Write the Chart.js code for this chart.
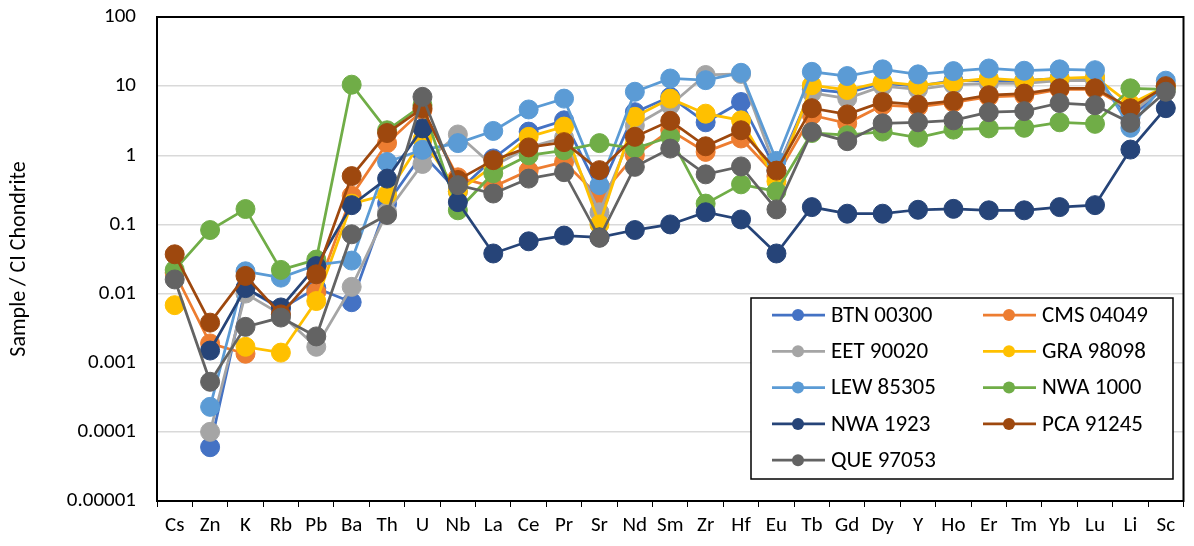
<!DOCTYPE html>
<html>
<head>
<meta charset="utf-8">
<script src="https://cdn.jsdelivr.net/npm/chart.js@4/dist/chart.umd.min.js"></script>
<style>
html,body{margin:0;padding:0;background:#fff;}
#wrap{width:1194px;height:546px;}
</style>
</head>
<body>
<div id="wrap"><canvas id="spider"></canvas></div>
<script>
// element order on the x axis
const elements = ['Cs','Zn','K','Rb','Pb','Ba','Th','U','Nb','La','Ce','Pr','Sr','Nd','Sm','Zr','Hf','Eu','Tb','Gd','Dy','Y','Ho','Er','Tm','Yb','Lu','Li','Sc'];

// sample / CI chondrite, null = not measured
const btn00300 = [null,0.00006,0.012,0.006,0.012,0.0075,0.2,1.05,0.3,0.9,2.2,3.2,0.3,4.2,7,3.0,5.9,0.6,9,8,11,10,12,12,12,13,13,3.5,10];
const cms04049 = [0.02,0.0019,0.00135,null,0.0105,0.26,1.5,4.5,0.48,0.35,0.6,0.8,0.25,1.0,2.3,1.12,1.75,0.5,3.8,2.9,5.3,5,5.8,7,7.3,9,9,4.5,10];
const eet90020 = [null,0.0001,0.01,0.005,0.0017,0.0125,0.15,0.75,2.0,0.7,1.3,1.8,0.15,2.7,5.3,14.5,15,0.6,8,6.6,10,9,10.5,11,11,12,12,4,10];
const gra98098 = [0.0068,null,0.0017,0.0014,0.0078,0.2,0.27,1.7,0.3,0.7,1.85,2.6,0.1,3.6,6.6,4.0,3.2,0.42,10.3,8.8,11.5,10.3,11.5,12.9,12,13,13.5,5.5,10];
const lew85305 = [null,0.00023,0.021,0.017,0.026,0.03,0.8,1.2,1.5,2.25,4.6,6.6,0.37,8.3,12.9,12.2,15.6,0.83,16.1,14,17.5,14.8,16.5,18,16.7,17.5,17,2.5,12];
const nwa1000 = [0.022,0.083,0.167,0.022,0.031,10.5,2.3,5.3,0.16,0.55,1.0,1.18,1.5,1.25,1.85,0.2,0.38,0.3,2.1,1.95,2.2,1.8,2.35,2.45,2.5,3.0,2.85,9.3,9];
const nwa1923 = [null,0.0015,0.012,0.0063,0.025,0.19,0.46,2.45,0.21,0.038,0.057,0.069,0.065,0.083,0.1,0.15,0.118,0.038,0.178,0.143,0.143,0.163,0.168,0.16,0.16,0.178,0.19,1.21,4.8];
const pca91245 = [0.037,0.0038,0.018,0.005,0.019,0.5,2.1,4.8,0.44,0.85,1.3,1.55,0.61,1.85,3.15,1.35,2.3,0.6,4.8,3.9,5.9,5.4,6.1,7.4,7.8,9.3,9.3,4.8,10];
const que97053 = [0.016,0.00053,0.0033,0.0045,0.0024,0.072,0.137,7.0,0.37,0.28,0.46,0.57,0.064,0.68,1.25,0.53,0.69,0.165,2.18,1.6,2.9,3.0,3.2,4.2,4.35,5.7,5.3,2.95,8.3];

const sampleNames = ['BTN 00300','CMS 04049','EET 90020','GRA 98098','LEW 85305','NWA 1000','NWA 1923','PCA 91245','QUE 97053'];
const sampleValues = [btn00300,cms04049,eet90020,gra98098,lew85305,nwa1000,nwa1923,pca91245,que97053];

const yTickValues = [0.00001,0.0001,0.001,0.01,0.1,1,10,100];
const yTickLabels = ['0.00001','0.0001','0.001','0.01','0.1','1','10','100'];

const colors = ['#4472C4','#ED7D31','#A5A5A5','#FFC000','#5B9BD5','#70AD47','#264478','#9E480E','#636363'];
const FONT = 'Carlito, Calibri, Lato, sans-serif';

const datasets = sampleNames.map(function(name,i){
  return {
    label:name,
    data:sampleValues[i],
    borderColor:colors[i],
    backgroundColor:colors[i],
    pointBackgroundColor:colors[i],
    pointBorderColor:colors[i],
    borderWidth:2.75,
    pointRadius:9.5,
    pointBorderWidth:1,
    spanGaps:false,
    tension:0,
    order:sampleNames.length-1-i
  };
});

// frame round the plot area
const framePlugin = {
  id:'frame',
  beforeDatasetsDraw(chart){
    const a = chart.chartArea, c = chart.ctx;
    c.save();
    c.strokeStyle='#000';
    c.lineWidth=2;
    c.strokeRect(a.left,a.top,a.right-a.left,a.bottom-a.top);
    c.restore();
  }
};

// boxed two-column legend inside the plot
const legendBox = {
  id:'legendBox',
  afterDraw(chart){
    const a = chart.chartArea, c = chart.ctx;
    const x0 = a.left+594, y0 = a.top+281, w = 422, h = 181;
    c.save();
    c.fillStyle='#fff';
    c.fillRect(x0,y0,w,h);
    c.strokeStyle='#000';
    c.lineWidth=1.5;
    c.strokeRect(x0,y0,w,h);
    c.font='23px '+FONT;
    c.textBaseline='middle';
    chart.data.datasets.forEach(function(ds,i){
      const col = i%2, row = Math.floor(i/2);
      const lx = x0+21+col*211;
      const ly = y0+17+row*36.3;
      c.strokeStyle=ds.borderColor;
      c.lineWidth=2.75;
      c.beginPath();
      c.moveTo(lx,ly);
      c.lineTo(lx+53,ly);
      c.stroke();
      c.fillStyle=ds.borderColor;
      c.beginPath();
      c.arc(lx+26,ly,6,0,Math.PI*2);
      c.fill();
      c.fillStyle='#000';
      c.fillText(ds.label,lx+59,ly+1);
    });
    c.restore();
  }
};

new Chart(document.getElementById('spider'),{
  type:'line',
  data:{labels:elements,datasets:datasets},
  plugins:[framePlugin,legendBox],
  options:{
    responsive:true,
    maintainAspectRatio:false,
    animation:false,
    layout:{padding:{top:17,right:7,left:6,bottom:0}},
    plugins:{legend:{display:false},tooltip:{enabled:false}},
    scales:{
      x:{
        offset:true,
        grid:{display:true,drawOnChartArea:false,drawTicks:true,tickLength:6,color:'#000',offset:true},
        border:{color:'#000',width:2},
        ticks:{color:'#000',font:{family:FONT,size:21},padding:6,maxRotation:0,autoSkip:false},
        afterFit(s){s.height=45;}
      },
      y:{
        type:'logarithmic',
        min:0.00001,
        max:100,
        afterBuildTicks(s){s.ticks=yTickValues.map(function(v){return {value:v};});},
        grid:{color:'#D9D9D9',lineWidth:1.5,drawTicks:true,tickLength:20,tickColor:'rgba(0,0,0,0)'},
        border:{color:'#000',width:2},
        ticks:{
          color:'#000',
          font:{family:FONT,size:21},
          padding:1,
          callback(v){const k=yTickValues.indexOf(v);return k<0?'':yTickLabels[k];}
        },
        title:{display:true,text:'Sample / CI Chondrite',color:'#000',font:{family:FONT,size:22},padding:{top:0,bottom:0}},
        afterFit(s){s.width=151;}
      }
    }
  }
});
</script>
</body>
</html>
